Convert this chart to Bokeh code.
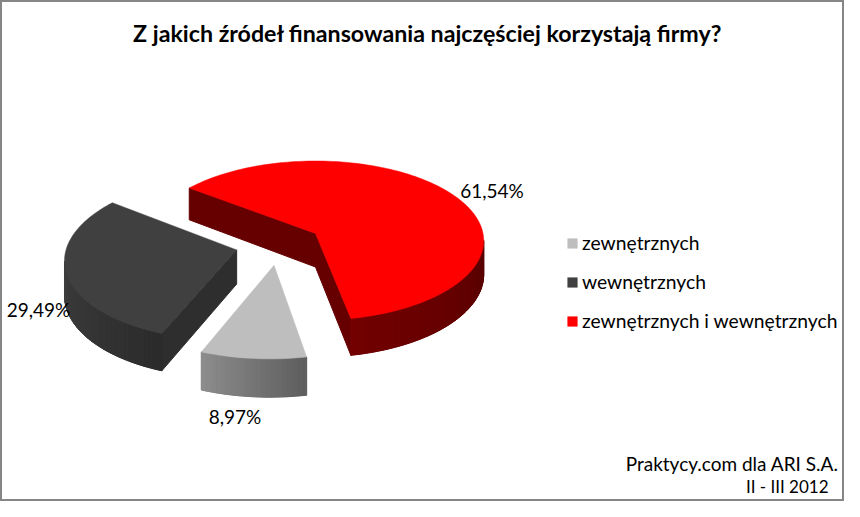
import math
from bokeh.plotting import figure
from bokeh.models import Range1d, Label, Legend, LegendItem, ColumnDataSource
from bokeh.embed import file_html
from bokeh.resources import INLINE

title_text = "Z jakich źródeł finansowania  najczęściej korzystają firmy?"
categories = ["zewnętrznych", "wewnętrznych", "zewnętrznych i wewnętrznych"]
shares = [8.97, 29.49, 61.54]
top_colors = ["#bebebe", "#404040", "#ff0000"]
wall_first = [(0x5e, 0x5e, 0x5e), (0x2c, 0x2c, 0x2c), (0x58, 0, 0)]
wall_last = [(0x8c, 0x8c, 0x8c), (0x3e, 0x3e, 0x3e), (0x72, 0, 0)]
cut_colors = ["#5e5e5e", "#2e2e2e", "#660000"]
note_lines = ["Praktycy.com dla ARI S.A.", "II - III 2012"]

FONT = "Lato"
START = 168.9
EXPLODE = 0.255
A, B, K, H = 167.5, 79.0, 0.09, 33.5
X0, Y0 = 315.0, 233.0


def project(u, v, drop=0.0):
    w = 1 - K * v
    return X0 + A * u / w, Y0 + (B * v + H * drop) / w


def direction(deg):
    r = math.radians(deg)
    return math.sin(r), -math.cos(r)


def hexcol(c):
    return "#%02x%02x%02x" % tuple(int(round(i)) for i in c)


spans = []
a = START
for s in shares:
    spans.append((a, a + s * 3.6))
    a += s * 3.6
mids = [direction((x + y) / 2) for x, y in spans]
ref = mids[2]

p = figure(width=844, height=501, output_backend="svg", toolbar_location=None,
           x_range=Range1d(0, 844), y_range=Range1d(501, 0), min_border=0,
           background_fill_color="white", border_fill_color="white")
p.xaxis.visible = False
p.yaxis.visible = False
p.grid.visible = False
p.outline_line_color = "#868686"
p.outline_line_width = 3

top_renderers = {}
for i in [1, 0, 2]:
    t0, t1 = spans[i]
    au = EXPLODE * (mids[i][0] - ref[0])
    av = EXPLODE * (mids[i][1] - ref[1])
    n = max(2, int((t1 - t0) / 1.5))
    rim = []
    for j in range(n + 1):
        d = direction(t0 + (t1 - t0) * j / n)
        rim.append((au + d[0], av + d[1]))
    xs, ys, cols = [], [], []
    apex_t = project(au, av)
    apex_b = project(au, av, 1)
    st_t, st_b = project(*rim[0]), project(*rim[0], 1)
    en_t, en_b = project(*rim[-1]), project(*rim[-1], 1)
    if st_t[0] < apex_t[0]:
        xs.append([apex_t[0], st_t[0], st_b[0], apex_b[0]])
        ys.append([apex_t[1], st_t[1], st_b[1], apex_b[1]])
        cols.append(cut_colors[i])
    if apex_t[0] < en_t[0]:
        xs.append([apex_t[0], en_t[0], en_b[0], apex_b[0]])
        ys.append([apex_t[1], en_t[1], en_b[1], apex_b[1]])
        cols.append(cut_colors[i])
    strips = []
    for j in range(n):
        a1, a2 = project(*rim[j]), project(*rim[j + 1])
        if a2[0] < a1[0]:
            b1, b2 = project(*rim[j], 1), project(*rim[j + 1], 1)
            strips.append((a1, a2, b2, b1))
    if strips:
        # one solid wall below the strips, so that no seam shows through
        upper = [s[0] for s in strips] + [strips[-1][1]]
        lower = [strips[-1][2]] + [s[3] for s in reversed(strips)]
        outline = upper + lower
        mid_col = hexcol([(wall_first[i][c] + wall_last[i][c]) / 2 for c in range(3)])
        p.patch([q[0] for q in outline], [q[1] for q in outline],
                fill_color=mid_col, line_color=mid_col, line_width=0.5)
    m = max(1, len(strips) - 1)
    for j, s in enumerate(strips):
        f = j / m
        xs.append([q[0] for q in s])
        ys.append([q[1] for q in s])
        cols.append(hexcol([wall_first[i][c] + (wall_last[i][c] - wall_first[i][c]) * f for c in range(3)]))
    src = ColumnDataSource(dict(xs=xs, ys=ys, c=cols))
    p.patches("xs", "ys", source=src, fill_color="c", line_color="c", line_width=1.0)
    pts = [apex_t] + [project(*q) for q in rim]
    top_renderers[i] = p.patch([q[0] for q in pts], [q[1] for q in pts],
                               fill_color=top_colors[i], line_color=top_colors[i], line_width=0.5)

legend = Legend(items=[LegendItem(label=categories[i], renderers=[top_renderers[i]]) for i in range(3)],
                location=(566, 169), padding=0, margin=0, spacing=16,
                glyph_width=12, glyph_height=12, label_standoff=4, label_height=17,
                label_text_font=FONT, label_text_font_size="19.3px", label_text_color="#000000",
                background_fill_alpha=0, border_line_color=None)
p.add_layout(legend)


def pct(v):
    return ("%.2f" % v).replace(".", ",") + "%"


for i, (lx, ly) in zip([2, 1, 0], [(491.5, 190), (38, 309), (234.5, 416)]):
    p.add_layout(Label(x=lx, y=ly, text=pct(shares[i]), text_font=FONT, text_font_size="19px",
                       text_align="center", text_baseline="middle", text_color="#000000"))

p.add_layout(Label(x=430, y=32, text=title_text, text_font=FONT, text_font_style="bold",
                   text_font_size="23.2px", text_align="center", text_baseline="middle", text_color="#000000"))
p.add_layout(Label(x=838, y=463, text=note_lines[0], text_font=FONT, text_font_size="19px",
                   text_align="right", text_baseline="middle", text_color="#000000"))
p.add_layout(Label(x=828, y=486, text=note_lines[1], text_font=FONT, text_font_size="17px",
                   text_align="right", text_baseline="middle", text_color="#000000"))

open("out.html", "w").write(file_html(p, INLINE))
